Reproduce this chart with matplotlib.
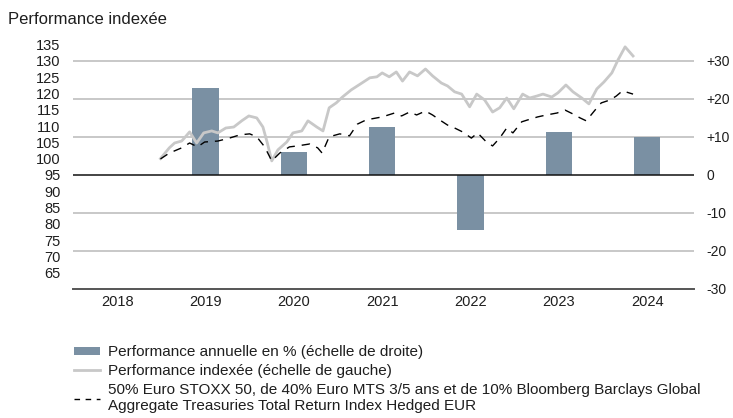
import matplotlib
matplotlib.use("Agg")
import matplotlib.pyplot as plt
from matplotlib.lines import Line2D
from matplotlib.patches import Patch

plt.rcParams["font.family"] = ["Liberation Sans", "DejaVu Sans"]

# annual performance in % (right scale)
years = [2018, 2019, 2020, 2021, 2022, 2023, 2024]
bar_years = [2019, 2020, 2021, 2022, 2023, 2024]
bar_pct = [22.8, 6.1, 12.7, -14.5, 11.4, 10.0]

# indexed performance of the fund (left scale)
fund_t = [2018.49, 2018.59, 2018.65, 2018.73, 2018.76, 2018.82, 2018.90, 2018.98,
          2019.07, 2019.14, 2019.23, 2019.32, 2019.41, 2019.49, 2019.58, 2019.65,
          2019.70, 2019.75, 2019.82, 2019.92, 2019.99, 2020.09, 2020.16, 2020.26,
          2020.33, 2020.40, 2020.48, 2020.55, 2020.65, 2020.77, 2020.86, 2020.94,
          2021.00, 2021.08, 2021.16, 2021.23, 2021.31, 2021.40, 2021.49, 2021.57,
          2021.67, 2021.74, 2021.82, 2021.90, 2021.99, 2022.07, 2022.16, 2022.25,
          2022.33, 2022.41, 2022.49, 2022.59, 2022.67, 2022.75, 2022.82, 2022.92,
          2022.99, 2023.08, 2023.16, 2023.26, 2023.34, 2023.43, 2023.51, 2023.60,
          2023.67, 2023.75, 2023.84]
fund_idx = [100.0, 103.3, 104.8, 105.4, 106.3, 108.2, 104.8, 107.9,
            108.5, 107.9, 109.4, 109.7, 111.6, 113.1, 112.5, 109.7,
            104.8, 99.3, 102.7, 105.1, 107.9, 108.5, 111.6, 109.7,
            108.5, 115.6, 117.1, 118.9, 121.1, 123.2, 124.8, 125.1,
            126.3, 125.1, 126.6, 123.8, 126.6, 125.4, 127.5, 125.4,
            123.2, 122.3, 120.5, 119.8, 115.9, 119.8, 118.0, 114.3,
            115.6, 118.6, 115.3, 119.8, 118.6, 119.2, 119.8, 118.9,
            120.2, 122.6, 120.5, 118.6, 116.8, 121.4, 123.5, 126.3,
            130.3, 134.3, 131.5]

# benchmark (left scale)
bench_t = [2018.49, 2018.59, 2018.73, 2018.82, 2018.91, 2018.99, 2019.14, 2019.27,
           2019.39, 2019.50, 2019.58, 2019.67, 2019.75, 2019.84, 2019.95, 2020.04,
           2020.18, 2020.27, 2020.32, 2020.40, 2020.52, 2020.63, 2020.72, 2020.82,
           2021.00, 2021.14, 2021.22, 2021.31, 2021.39, 2021.49, 2021.57, 2021.65,
           2021.74, 2021.82, 2021.91, 2022.01, 2022.08, 2022.18, 2022.25, 2022.33,
           2022.41, 2022.48, 2022.58, 2022.65, 2022.76, 2022.86, 2022.98, 2023.07,
           2023.16, 2023.24, 2023.31, 2023.41, 2023.48, 2023.58, 2023.65, 2023.72,
           2023.84]
bench_idx = [99.9, 101.7, 103.3, 104.8, 103.6, 105.1, 105.4, 106.3,
             107.3, 107.6, 106.7, 103.6, 99.3, 101.7, 103.6, 103.9,
             104.5, 103.3, 101.7, 106.7, 107.6, 107.0, 110.6, 111.9,
             112.8, 114.0, 113.1, 114.3, 113.4, 114.6, 113.4, 111.9,
             110.3, 109.4, 108.2, 106.3, 107.9, 105.1, 103.9, 106.3,
             109.4, 107.9, 111.3, 111.9, 112.8, 113.4, 114.0, 114.9,
             113.7, 112.5, 111.6, 114.9, 117.1, 118.0, 119.2, 120.8,
             119.8]

left_ticks = [135, 130, 125, 120, 115, 110, 105, 100, 95, 90, 85, 80, 75, 70, 65]
right_ticks = [30, 20, 10, 0, -10, -20, -30]
right_labels = ["+30", "+20", "+10", "0", "-10", "-20", "-30"]

legend_labels = [
    "Performance annuelle en % (échelle de droite)",
    "Performance indexée (échelle de gauche)",
    "50% Euro STOXX 50, de 40% Euro MTS 3/5 ans et de 10% Bloomberg Barclays Global\n"
    "Aggregate Treasuries Total Return Index Hedged EUR",
]

BAR_COL, LINE_COL, GRID_COL, TXT = "#7a90a3", "#c8c8c8", "#c4c4c4", "#1e1e1e"

fig = plt.figure(figsize=(7.33, 4.18), dpi=100)
ax = fig.add_axes([73 / 733, 1 - 289 / 418, 621 / 733, 249 / 418])
ax2 = ax.twinx()

# bars on the right-hand % scale
ax.bar(bar_years, bar_pct, width=0.3, color=BAR_COL, zorder=2)
ax.set_ylim(-30, 35.5)
ax.set_xlim(2017.5, 2024.53)
for v in right_ticks[:-1]:
    if v != 0:
        ax.axhline(v, color=GRID_COL, lw=1.3, zorder=1)
ax.axhline(0, color="#111111", lw=1.1, zorder=3)
ax.set_yticks(right_ticks, right_labels)
ax.set_xticks(years, [str(y) for y in years])
ax.yaxis.tick_right()
ax.tick_params(axis="y", length=0, pad=9, labelsize=10, colors=TXT)
ax.tick_params(axis="x", length=0, pad=4, labelsize=10.5, colors=TXT)
for name, sp in ax.spines.items():
    sp.set_visible(name == "bottom")
ax.spines["bottom"].set_color("#555555")
ax.spines["bottom"].set_linewidth(1.4)

# indexed lines on the left scale, drawn above the bars
ax2.plot(fund_t, fund_idx, color=LINE_COL, lw=2.0, zorder=3)
ax2.plot(bench_t, bench_idx, color="black", lw=1.0, dashes=(6, 5), zorder=4)
ax2.set_ylim(60.0, 136.4)
ax2.set_yticks(left_ticks, [str(v) for v in left_ticks])
ax2.yaxis.tick_left()
ax2.tick_params(axis="y", length=0, pad=9, labelsize=10.5, colors=TXT)
for sp in ax2.spines.values():
    sp.set_visible(False)

fig.text(8 / 733, 1 - 20 / 418, "Performance indexée", fontsize=12, color=TXT,
         va="center", ha="left")

handles = [
    Patch(facecolor=BAR_COL, edgecolor="none"),
    Line2D([], [], color=LINE_COL, lw=2.0),
    Line2D([], [], color="black", lw=1.0, dashes=(4, 4)),
]
fig.legend(handles, legend_labels, loc="upper left",
           bbox_to_anchor=(68 / 733, 1 - 339 / 418), frameon=False,
           fontsize=11, handlelength=1.7, handleheight=0.4, handletextpad=0.5,
           labelspacing=0.32, borderaxespad=0, labelcolor=TXT)

fig.savefig("out.png", dpi=100)
